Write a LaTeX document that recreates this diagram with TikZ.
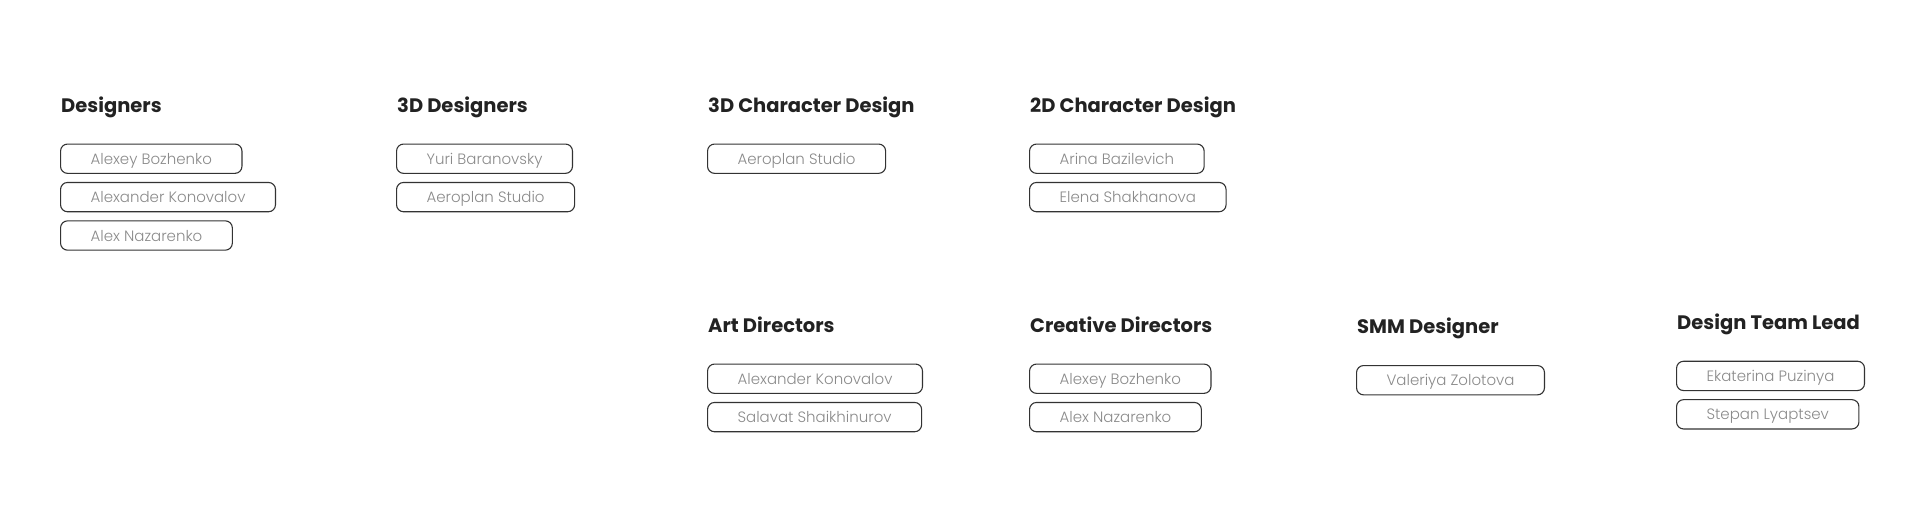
\documentclass[tikz,border=0pt]{standalone}
\usepackage{fontspec}
\setmainfont{Poppins}
\newfontfamily\headfont{Poppins}[UprightFont=* Bold]
\newfontfamily\namefont{Poppins}[UprightFont=* Light]
\usetikzlibrary{positioning}
\definecolor{headtext}{HTML}{222222}
\definecolor{nametext}{HTML}{8A8A8A}
\definecolor{boxline}{HTML}{333333}
\tikzset{
  head/.style={anchor=base west, inner sep=0pt, text=headtext,
    font=\headfont\fontsize{19.5}{19.5}\selectfont},
  namebox/.style={draw=boxline, line width=1.1pt, rounded corners=7pt,
    minimum height=29.3pt, inner xsep=30pt, inner ysep=0pt,
    text height=11pt, text depth=0pt, text=nametext,
    font=\namefont\fontsize{15}{15}\selectfont},
  first/.style={below right=31.2pt and -1pt of #1.base west},
  next/.style={below right=8pt and 0pt of #1.south west}
}
\begin{document}
\begin{tikzpicture}[x=1pt, y=-1pt]
  \useasboundingbox (0,0) rectangle (1920,528);
  % top row
  \node[head] (des) at (61,112.3) {Designers};
  \node[namebox, first=des] (des1) {Alexey Bozhenko};
  \node[namebox, next=des1] (des2) {Alexander Konovalov};
  \node[namebox, next=des2] (des3) {Alex Nazarenko};

  \node[head] (thd) at (397,112.3) {3D Designers};
  \node[namebox, first=thd] (thd1) {Yuri Baranovsky};
  \node[namebox, next=thd1] (thd2) {Aeroplan Studio};

  \node[head] (thc) at (708,112.3) {3D Character Design};
  \node[namebox, first=thc] (thc1) {Aeroplan Studio};

  \node[head] (twc) at (1030,112.3) {2D Character Design};
  \node[namebox, first=twc] (twc1) {Arina Bazilevich};
  \node[namebox, next=twc1] (twc2) {Elena Shakhanova};

  % bottom row
  \node[head] (art) at (708,332.3) {Art Directors};
  \node[namebox, first=art] (art1) {Alexander Konovalov};
  \node[namebox, next=art1] (art2) {Salavat Shaikhinurov};

  \node[head] (cre) at (1030,332.3) {Creative Directors};
  \node[namebox, first=cre] (cre1) {Alexey Bozhenko};
  \node[namebox, next=cre1] (cre2) {Alex Nazarenko};

  \node[head] (smm) at (1357,333.8) {SMM Designer};
  \node[namebox, first=smm] (smm1) {Valeriya Zolotova};

  \node[head] (dtl) at (1677,329.5) {Design Team Lead};
  \node[namebox, first=dtl] (dtl1) {Ekaterina Puzinya};
  \node[namebox, next=dtl1] (dtl2) {Stepan Lyaptsev};
\end{tikzpicture}
\end{document}
